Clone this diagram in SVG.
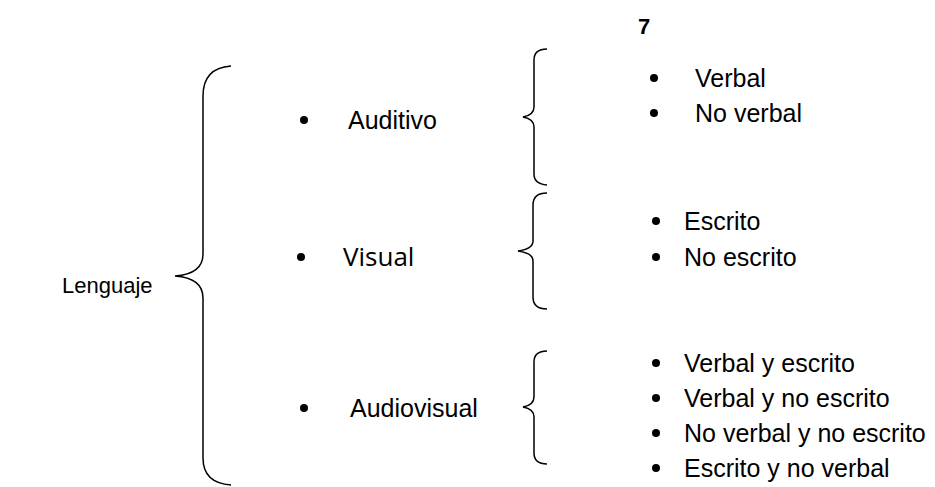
<svg xmlns="http://www.w3.org/2000/svg" width="935" height="487" viewBox="0 0 935 487">
<style>
.t{font-family:"Liberation Sans",Arial,sans-serif;font-size:25px;fill:#000}
.c{font-family:"Open Sans","Noto Sans",sans-serif;font-size:26px;fill:#000}
.b{fill:#000}
.br{fill:none;stroke:#000;stroke-width:1.5}
</style>
<rect width="935" height="487" fill="#fff"/>
<text class="t" x="638" y="34" style="font-size:22px;font-weight:bold">7</text>
<g id="lenguaje"><text class="t" x="62" y="293" style="font-size:22px">Lenguaje</text></g>
<g id="connectors">
<path class="br" d="M231,66 Q203,68 203,96 L203,254 Q203,274 175,276 Q203,278 203,298 L203,458 Q203,483 231,485"/>
<path class="br" d="M547,49 Q534,49 534,60 L534,107 Q534,115 523,117 Q534,119 534,127 L534,174 Q534,184 547,185"/>
<path class="br" d="M547,193 Q533,193 533,205 L533,241 Q533,249 518,251 Q533,253 533,261 L533,297 Q533,309 547,309"/>
<path class="br" d="M547,351 Q534,351 534,362 L534,397 Q534,405 523,407 Q534,409 534,417 L534,453 Q534,464 547,464"/>
</g>
<g id="auditivo"><circle class="b" cx="304" cy="120" r="4"/><text class="t" x="348" y="129">Auditivo</text></g>
<g id="visual"><circle class="b" cx="301" cy="257" r="4"/><text class="c" x="343" y="266">Visual</text></g>
<g id="audiovisual"><circle class="b" cx="304" cy="408" r="4"/><text class="t" x="350" y="417">Audiovisual</text></g>
<g id="auditivo-items">
<circle class="b" cx="654" cy="78" r="4"/><text class="t" x="695" y="87">Verbal</text>
<circle class="b" cx="654" cy="113" r="4"/><text class="t" x="695" y="122">No verbal</text>
</g>
<g id="visual-items">
<circle class="b" cx="656" cy="221" r="4"/><text class="t" x="684" y="230">Escrito</text>
<circle class="b" cx="656" cy="257" r="4"/><text class="t" x="684" y="266">No escrito</text>
</g>
<g id="audiovisual-items">
<circle class="b" cx="656" cy="363" r="4"/><text class="t" x="684" y="372">Verbal y escrito</text>
<circle class="b" cx="656" cy="398" r="4"/><text class="t" x="684" y="407">Verbal y no escrito</text>
<circle class="b" cx="656" cy="433" r="4"/><text class="t" x="684" y="442">No verbal y no escrito</text>
<circle class="b" cx="656" cy="468" r="4"/><text class="t" x="684" y="477">Escrito y no verbal</text>
</g>
</svg>
